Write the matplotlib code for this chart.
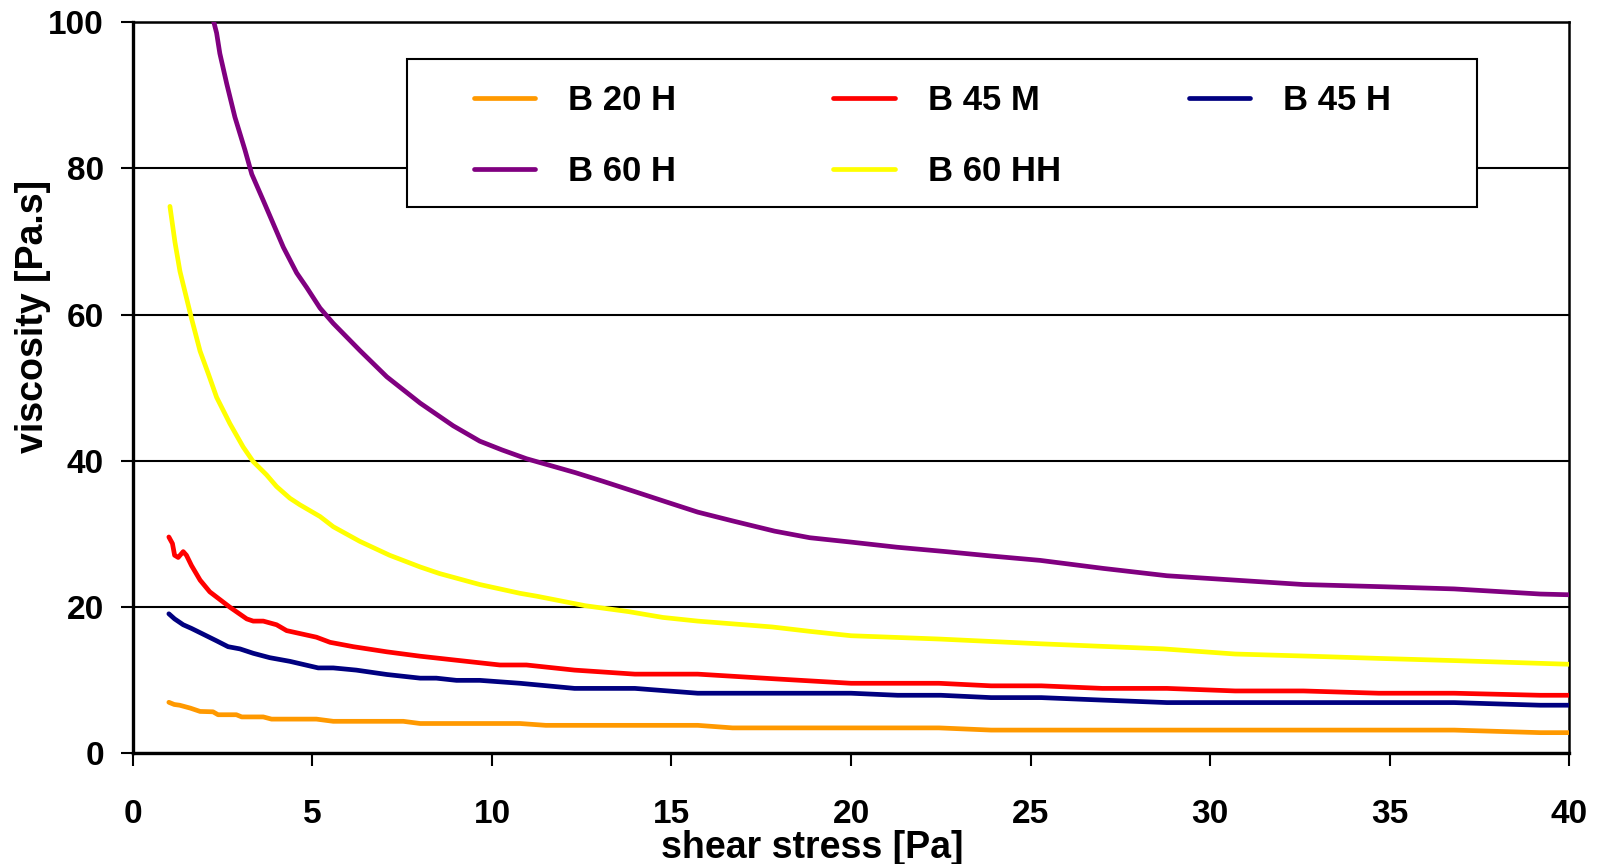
import matplotlib
matplotlib.use("Agg")
import matplotlib.pyplot as plt
from matplotlib.patches import Rectangle

plt.rcParams['font.family'] = ['Liberation Sans', 'DejaVu Sans']
plt.rcParams['font.weight'] = 'bold'

# ---- data ----
labels = ["B 20 H", "B 45 M", "B 45 H", "B 60 H", "B 60 HH"]
colors = ["#FF9900", "#FF0000", "#000080", "#800080", "#FFFF00"]

x_b20h = [1.0, 1.15, 1.3, 1.6, 1.87, 2.23, 2.37, 2.88, 3.03, 3.63, 3.86, 5.11, 5.58, 7.53, 8.0,
          10.78, 11.5, 15.73, 16.7, 22.45, 23.9, 36.8, 39.2, 40]
y_b20h = [7.0, 6.7, 6.6, 6.2, 5.75, 5.7, 5.3, 5.3, 5.0, 5.0, 4.7, 4.7, 4.4, 4.4, 4.1,
          4.1, 3.85, 3.85, 3.5, 3.5, 3.2, 3.2, 2.85, 2.85]

x_b45m = [1.0, 1.1, 1.16, 1.26, 1.4, 1.49, 1.63, 1.87, 2.14, 2.7, 3.17, 3.35, 3.63, 4.0, 4.28,
          5.11, 5.49, 6.14, 7.07, 8.0, 8.92, 10.22, 10.96, 12.3, 13.98, 15.73, 17.9, 20.0,
          22.45, 23.9, 25.3, 27.0, 28.8, 30.7, 32.6, 34.7, 36.8, 39.2, 40]
y_b45m = [29.6, 28.7, 27.1, 26.8, 27.6, 27.1, 25.7, 23.7, 22.1, 20.0, 18.4, 18.1, 18.1, 17.6, 16.8,
          15.9, 15.2, 14.6, 13.9, 13.3, 12.8, 12.1, 12.1, 11.4, 10.85, 10.85, 10.2, 9.6,
          9.6, 9.25, 9.25, 8.9, 8.9, 8.55, 8.55, 8.24, 8.24, 7.96, 7.96]

x_b45h = [1.0, 1.16, 1.4, 1.63, 1.96, 2.33, 2.65, 2.98, 3.35, 3.81, 4.37, 5.16, 5.58, 6.22, 7.07,
          8.0, 8.45, 9.01, 9.66, 10.78, 12.3, 13.98, 15.73, 20.0, 21.3, 22.5, 23.9, 25.3, 27.0,
          28.8, 36.8, 39.2, 40]
y_b45h = [19.1, 18.4, 17.6, 17.1, 16.3, 15.4, 14.6, 14.3, 13.7, 13.1, 12.6, 11.7, 11.7, 11.4, 10.8,
          10.3, 10.3, 10.0, 10.0, 9.6, 8.9, 8.9, 8.24, 8.24, 7.96, 7.96, 7.64, 7.64, 7.3,
          6.96, 6.96, 6.6, 6.6]

x_b60h = [2.2, 2.33, 2.42, 2.61, 2.84, 3.12, 3.31, 3.63, 3.91, 4.19, 4.56, 4.84, 5.21, 5.58, 6.32,
          7.07, 8.0, 8.92, 9.66, 10.28, 10.96, 12.32, 13.1, 13.98, 14.85, 15.73, 16.7, 17.87,
          18.85, 20.0, 21.28, 22.64, 23.9, 25.27, 27.03, 28.8, 30.7, 32.6, 34.8, 36.8, 39.2, 40]
y_b60h = [101, 98.5, 95.7, 91.6, 87.0, 82.5, 79.2, 75.6, 72.4, 69.2, 65.7, 63.7, 60.9, 58.8, 55.1,
          51.5, 47.9, 44.8, 42.7, 41.5, 40.3, 38.4, 37.2, 35.8, 34.4, 33.0, 31.8, 30.4,
          29.5, 28.9, 28.2, 27.6, 27.0, 26.4, 25.3, 24.3, 23.7, 23.1, 22.8, 22.5, 21.8, 21.7]

x_b60hh = [1.03, 1.17, 1.31, 1.49, 1.63, 1.87, 2.10, 2.33, 2.70, 3.07, 3.35, 3.72, 4.0, 4.37, 4.65,
           5.21, 5.58, 6.32, 7.15, 8.0, 8.54, 9.66, 10.78, 11.25, 12.6, 13.8, 14.76, 15.73, 17.8,
           18.85, 20.0, 22.45, 25.27, 28.7, 30.7, 32.8, 34.7, 36.8, 40]
y_b60hh = [74.8, 69.9, 65.9, 62.3, 59.5, 55.0, 51.9, 48.7, 45.1, 41.9, 39.9, 38.1, 36.5, 34.9, 34.0,
           32.4, 31.0, 29.0, 27.1, 25.5, 24.6, 23.1, 21.9, 21.5, 20.2, 19.4, 18.6, 18.1, 17.3,
           16.7, 16.1, 15.65, 15.0, 14.3, 13.6, 13.3, 13.0, 12.7, 12.2]

x_ticks = [0, 5, 10, 15, 20, 25, 30, 35, 40]
y_ticks = [0, 20, 40, 60, 80, 100]
x_label = "shear stress [Pa]"
y_label = "viscosity [Pa.s]"

series_x = [x_b20h, x_b45m, x_b45h, x_b60h, x_b60hh]
series_y = [y_b20h, y_b45m, y_b45h, y_b60h, y_b60hh]

# ---- figure ----
fig = plt.figure(figsize=(15.98, 8.64), dpi=100)
ax = fig.add_axes([0.0832, 0.1279, 0.8987, 0.8466])

handles = []
for xs, ys, c, lab in zip(series_x, series_y, colors, labels):
    h, = ax.plot(xs, ys, color=c, lw=3.4, label=lab, solid_capstyle='round', zorder=3)
    handles.append(h)

ax.set_xlim(0, 40)
ax.set_ylim(0, 100)
ax.set_xticks(x_ticks)
ax.set_yticks(y_ticks)
ax.yaxis.grid(True, color='black', lw=1.5)
ax.set_axisbelow(True)

for side in ['left', 'bottom']:
    ax.spines[side].set_linewidth(2.4)
for side in ['top', 'right']:
    ax.spines[side].set_linewidth(1.8)

ax.tick_params(axis='x', direction='out', length=9, width=1.5, pad=24, labelsize=24)
ax.tick_params(axis='y', direction='out', length=9, width=1.5, pad=12, labelsize=24)
for lbl in ax.get_xticklabels() + ax.get_yticklabels():
    lbl.set_fontweight('bold')

ax.set_xlabel(x_label, fontsize=27, fontweight='bold')
ax.set_ylabel(y_label, fontsize=27, fontweight='bold')
ax.xaxis.set_label_coords(0.473, -0.1045)
ax.yaxis.set_label_coords(-0.057, 0.598)

# legend frame
ax.add_patch(Rectangle((0.191, 0.747), 0.745, 0.202, transform=ax.transAxes,
                       facecolor='white', edgecolor='black', lw=1.5, zorder=5))

# legend laid out row by row in three fixed columns
columns = [[0, 3], [1, 4], [2]]
col_x = [0.2375, 0.4878, 0.7354]
legs = []
for idxs, cx in zip(columns, col_x):
    lg = ax.legend([handles[i] for i in idxs], [labels[i] for i in idxs],
                   loc='upper left', bbox_to_anchor=(cx, 0.915), ncol=1,
                   frameon=False, fontsize=25, handlelength=1.76, handletextpad=0.95,
                   labelspacing=1.1, borderpad=0, borderaxespad=0)
    lg.set_zorder(6)
    for t in lg.get_texts():
        t.set_fontweight('bold')
    for hl in lg.get_lines():
        hl.set_linewidth(3.4)
    legs.append(lg)
for lg in legs[:-1]:
    ax.add_artist(lg)

fig.savefig("out.png", dpi=100)
